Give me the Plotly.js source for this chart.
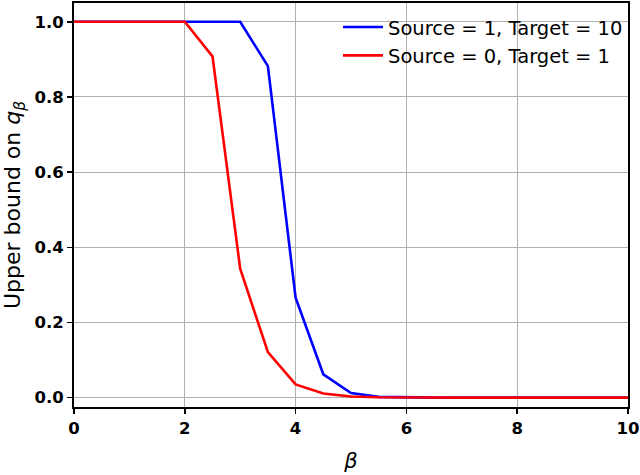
<!DOCTYPE html>
<html>
<head>
<meta charset="utf-8">
<script src="https://cdn.plot.ly/plotly-3.0.1.min.js"></script>
<style>html,body{margin:0;padding:0;background:#fff;}#chart{width:640px;height:475px;}</style>
</head>
<body>
<div id="chart"></div>
<script>
const beta = [0, 0.5, 1, 1.5, 2, 2.5, 3, 3.5, 4, 4.5, 5, 5.5, 6, 6.5, 7, 7.5, 8, 8.5, 9, 9.5, 10];
const boundSrc1Tgt10 = [1, 1, 1, 1, 1, 1, 1, 0.882, 0.266, 0.062, 0.012, 0.002, 0, 0, 0, 0, 0, 0, 0, 0, 0];
const boundSrc0Tgt1 = [1, 1, 1, 1, 1, 0.908, 0.343, 0.121, 0.035, 0.011, 0.003, 0.001, 0, 0, 0, 0, 0, 0, 0, 0, 0];
const seriesNames = ["Source = 1, Target = 10", "Source = 0, Target = 1"];
const xTicks = [0, 2, 4, 6, 8, 10];
const yTicks = [0, 0.2, 0.4, 0.6, 0.8, 1.0];
const yTickText = ["0.0", "0.2", "0.4", "0.6", "0.8", "1.0"];

const traces = [
  {x: beta, y: boundSrc1Tgt10, name: seriesNames[0], mode: "lines", line: {color: "#0000ff", width: 2.6}},
  {x: beta, y: boundSrc0Tgt1, name: seriesNames[1], mode: "lines", line: {color: "#ff0000", width: 2.6}}
];
const axisCommon = {
  showline: true, mirror: true, linecolor: "#000", linewidth: 2,
  ticks: "outside", ticklen: 5, tickwidth: 1.5, tickcolor: "#000",
  showgrid: true, gridcolor: "#b0b0b0", gridwidth: 1, zeroline: false,
  tickfont: {family: "DejaVu Sans", size: 16.5, color: "#000", weight: "bold"}
};
const layout = {
  width: 640, height: 475,
  margin: {l: 74, r: 12, t: 3, b: 68},
  paper_bgcolor: "#fff", plot_bgcolor: "#fff",
  font: {family: "DejaVu Sans", color: "#000"},
  xaxis: Object.assign({}, axisCommon, {
    range: [0, 10], tickvals: xTicks,
    title: {text: "<i>β</i>", font: {family: "DejaVu Sans", size: 21}, standoff: 17}
  }),
  yaxis: Object.assign({}, axisCommon, {
    range: [-0.025, 1.05], tickvals: yTicks, ticktext: yTickText,
    title: {text: "Upper bound on <i>q</i><sub><i>β</i></sub>", font: {family: "DejaVu Sans", size: 22}, standoff: 8}
  }),
  showlegend: true,
  legend: {
    x: 1.0, y: 0.988, xanchor: "right", yanchor: "top",
    bgcolor: "rgba(255,255,255,0)", borderwidth: 0,
    font: {family: "DejaVu Sans", size: 19.5, color: "#000"},
    itemwidth: 40
  }
};
Plotly.newPlot("chart", traces, layout, {displayModeBar: false, staticPlot: true});
</script>
</body>
</html>
